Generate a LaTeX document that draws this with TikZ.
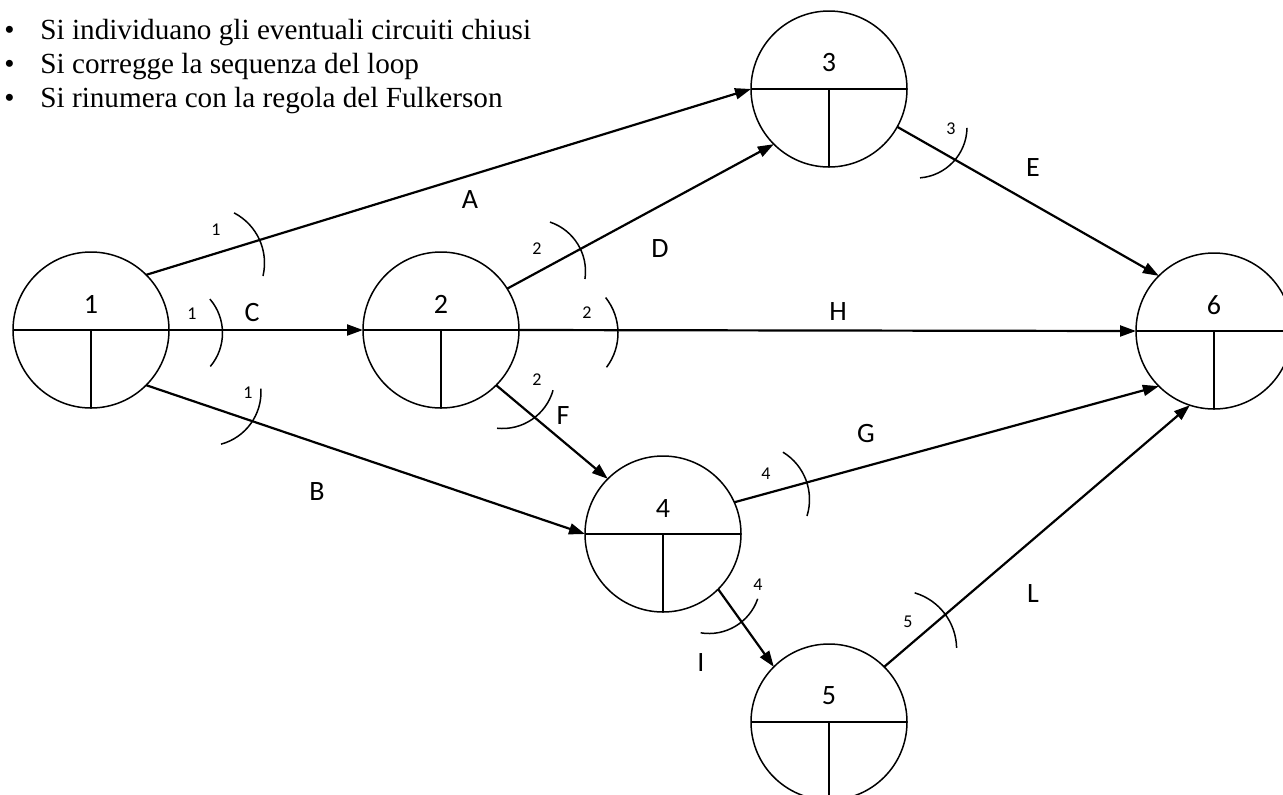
\documentclass[tikz,border=0pt]{standalone}
\usepackage{fontspec}
\setmainfont{Liberation Serif}
\newfontfamily\labelfont{Carlito}
\usetikzlibrary{arrows.meta}

\begin{document}
\begin{tikzpicture}[x=0.5pt, y=0.5pt,
    event/.style={circle, draw=black, line width=0.75pt, minimum size=78pt, inner sep=0pt, outer sep=0pt,
        path picture={\draw[line width=0.6pt] (path picture bounding box.west) -- (path picture bounding box.east)
            (path picture bounding box.center) -- (path picture bounding box.south);}},
    evnum/.style={font=\labelfont\fontsize{14}{16}\selectfont, yshift=13pt},
    arrow/.style={-{Triangle[length=8pt, width=5.5pt]}, line width=1.1pt},
    cut/.style={line width=0.75pt},
    edgelabel/.style={font=\labelfont\fontsize{14}{16}\selectfont},
    cutlabel/.style={font=\labelfont\fontsize{9}{11}\selectfont},
    bullettext/.style={font=\fontsize{14.6}{17}\selectfont, anchor=base west, inner sep=0pt}
]
    \useasboundingbox (0,0) rectangle (1283,-794);
    \clip (0,0) rectangle (1283,-794);

    % Steps
    \node[bullettext] (b1) at (4,-39) {•};
    \node[bullettext] (t1) at (40,-39) {Si individuano gli eventuali circuiti chiusi};
    \node[bullettext] (b2) at (4,-73) {•};
    \node[bullettext] (t2) at (40,-73) {Si corregge la sequenza del loop};
    \node[bullettext] (b3) at (4,-107) {•};
    \node[bullettext] (t3) at (40,-107) {Si rinumera con la regola del Fulkerson};

    % === Events ===
    \node[event, label={[evnum]center:1}] (n1) at (91,-330) {};
    \node[event, label={[evnum]center:2}] (n2) at (441,-330) {};
    \node[event, label={[evnum]center:3}] (n3) at (829,-89) {};
    \node[event, label={[evnum]center:4}] (n4) at (663,-534) {};
    \node[event, label={[evnum]center:5}] (n5) at (829,-722) {};
    \node[event, label={[evnum]center:6}] (n6) at (1214,-331) {};

    % === Activities ===
    \draw[arrow] (n1.45) -- (n3.west);
    \draw[arrow] (n1.east) -- (n2.west);
    \draw[arrow] (n1.-45) -- (n4.west);
    \draw[arrow] (n2.32) -- (n3.south west);
    \draw[arrow] (n2.east) -- (n6.west);
    \draw[arrow] (n2.south east) -- (n4.north west);
    \draw[arrow] (n3.-29) -- (n6.north west);
    \draw[arrow] (n4.24) -- (n6.south west);
    \draw[arrow] (n4.south east) -- (n5.north west);
    \draw[arrow] (n5.north east) -- (n6.252);

    % Activity names
    \node[edgelabel] (lA) at (470,-200) {A};
    \node[edgelabel] (lB) at (317,-492) {B};
    \node[edgelabel] (lC) at (252,-312) {C};
    \node[edgelabel] (lD) at (660,-249) {D};
    \node[edgelabel] (lE) at (1033,-168) {E};
    \node[edgelabel] (lF) at (563,-416) {F};
    \node[edgelabel] (lG) at (866,-433) {G};
    \node[edgelabel] (lH) at (838,-312) {H};
    \node[edgelabel] (lI) at (701,-662) {I};
    \node[edgelabel] (lL) at (1033,-594) {L};

    % === Cuts ===
    \draw[cut] ([shift={(62.5:28.25pt)}]208,-263) arc[start angle=62.5, end angle=-13.3, radius=28.25pt];
    \draw[cut] ([shift={(40.7:26pt)}]170.5,-333) arc[start angle=40.7, end angle=-40, radius=26pt];
    \draw[cut] ([shift={(3.6:27pt)}]207,-392) arc[start angle=3.6, end angle=-75, radius=27pt];
    \draw[cut] ([shift={(71.5:26pt)}]533.5,-271.4) arc[start angle=71.5, end angle=-8.4, radius=26pt];
    \draw[cut] ([shift={(38.5:28.5pt)}]561,-333) arc[start angle=38.5, end angle=-37, radius=28.5pt];
    \draw[cut] ([shift={(-15.7:26.25pt)}]502.5,-376) arc[start angle=-15.7, end angle=-96, radius=26.25pt];
    \draw[cut] ([shift={(-1:25.5pt)}]916,-127) arc[start angle=-1, end angle=-85.5, radius=25.5pt];
    \draw[cut] ([shift={(58.6:27.75pt)}]754,-499.5) arc[start angle=58.6, end angle=-17.3, radius=27.75pt];
    \draw[cut] ([shift={(-19:25.75pt)}]709,-582) arc[start angle=-19, end angle=-99.3, radius=25.75pt];
    \draw[cut] ([shift={(73.5:29.3pt)}]898,-649) arc[start angle=73.5, end angle=1.2, radius=29.3pt];

    % Cut numbers
    \node[cutlabel] (cA) at (216,-230) {1};
    \node[cutlabel] (cC) at (192,-314) {1};
    \node[cutlabel] (cB) at (248,-393) {1};
    \node[cutlabel] (cD) at (537,-249) {2};
    \node[cutlabel] (cH) at (587,-313) {2};
    \node[cutlabel] (cF) at (537,-380) {2};
    \node[cutlabel] (cE) at (951,-129) {3};
    \node[cutlabel] (cG) at (766,-474) {4};
    \node[cutlabel] (cI) at (758,-585) {4};
    \node[cutlabel] (cL) at (908,-622) {5};

\end{tikzpicture}
\end{document}
